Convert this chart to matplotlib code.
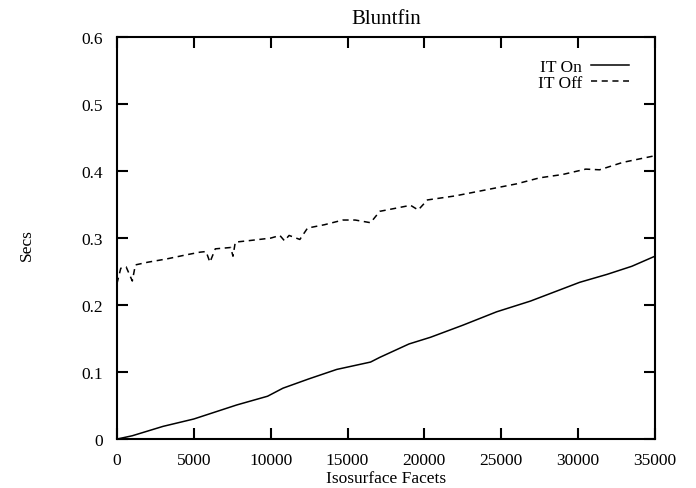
import matplotlib
matplotlib.use("Agg")
import matplotlib.pyplot as plt

# IT On (solid)
on_x = [0, 1000, 3000, 5000, 7800, 9800, 10800, 12500, 14300, 16500, 17100,
        19000, 20400, 22500, 24700, 26900, 28500, 30100, 31900, 33500, 35000]
on_y = [0.000, 0.005, 0.019, 0.030, 0.051, 0.064, 0.076, 0.090, 0.104, 0.115, 0.122,
        0.142, 0.152, 0.170, 0.190, 0.206, 0.220, 0.234, 0.246, 0.258, 0.273]

# IT Off (dashed)
off_x = [0, 250, 600, 1000, 1200, 2000, 3250, 4500, 5400, 5800, 6050, 6400,
         7400, 7550, 7700, 8500, 10000, 10600, 10900, 11200, 11900, 12400,
         13500, 14700, 15500, 16500, 17100, 18000, 19100, 19600, 20200, 22000,
         24000, 26000, 27500, 29000, 30500, 31400, 32900, 35000]
off_y = [0.232, 0.255, 0.257, 0.236, 0.260, 0.264, 0.269, 0.275, 0.279, 0.280, 0.264, 0.284,
         0.286, 0.273, 0.294, 0.296, 0.300, 0.304, 0.296, 0.304, 0.298, 0.315,
         0.320, 0.327, 0.327, 0.323, 0.340, 0.344, 0.349, 0.342, 0.357, 0.363,
         0.372, 0.381, 0.390, 0.395, 0.403, 0.402, 0.413, 0.423]

x_ticks = [0, 5000, 10000, 15000, 20000, 25000, 30000, 35000]
y_ticks = [0, 0.1, 0.2, 0.3, 0.4, 0.5, 0.6]
y_labels = ["0", "0.1", "0.2", "0.3", "0.4", "0.5", "0.6"]

plt.rcParams["font.family"] = ["Liberation Serif", "DejaVu Serif"]
plt.rcParams["font.size"] = 12.5

fig = plt.figure(figsize=(6.96, 4.89), dpi=100)
ax = fig.add_axes([0.168, 0.100, 0.773, 0.822])

ax.plot(on_x, on_y, color="black", lw=1.1, label="IT On")
ax.plot(off_x, off_y, color="black", lw=1.1, dashes=(4, 3), label="IT Off")

ax.set_xlim(0, 35000)
ax.set_ylim(0, 0.6)
ax.set_xticks(x_ticks)
ax.set_yticks(y_ticks)
ax.set_yticklabels(y_labels)
ax.tick_params(direction="in", length=8, width=1.5, top=True, right=True)
ax.tick_params(axis="x", pad=9)
ax.tick_params(axis="y", pad=10)
for s in ax.spines.values():
    s.set_linewidth(1.5)

ax.set_title("Bluntfin", pad=10)
ax.set_xlabel("Isosurface Facets", labelpad=2)
ax.set_ylabel("Secs", rotation=90, va="center")
ax.yaxis.set_label_coords(-0.167, 0.485)

ax.legend(loc="upper right", frameon=False, markerfirst=False, handlelength=2.2,
          handletextpad=0.5, labelspacing=0.0, borderaxespad=1.0,
          bbox_to_anchor=(0.997, 1.006))

fig.savefig("out.png", dpi=100)
